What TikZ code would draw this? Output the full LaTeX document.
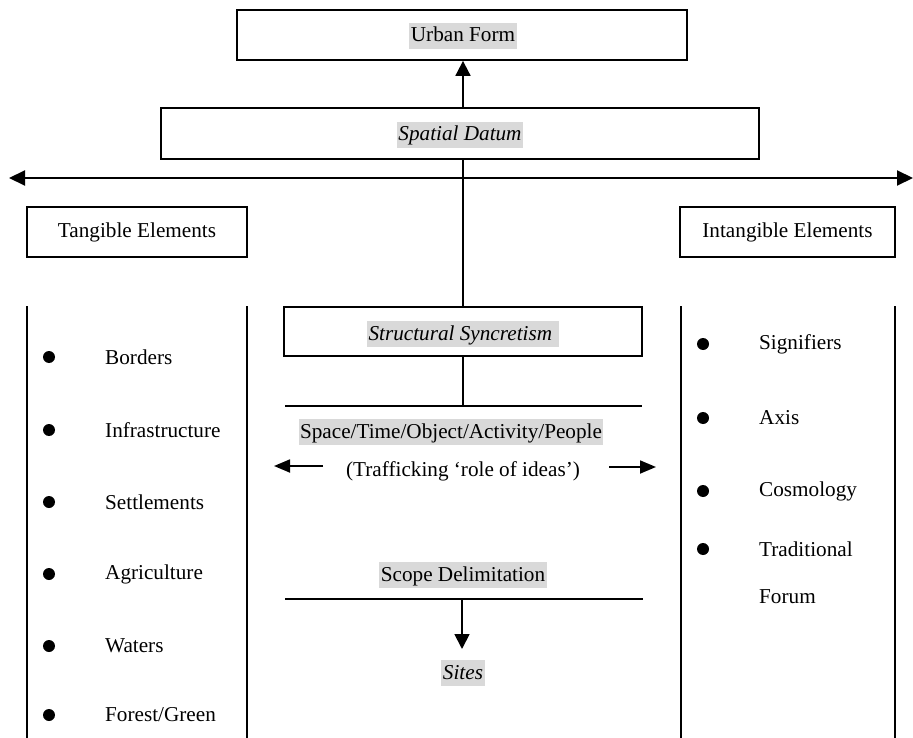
\documentclass[tikz,border=0pt]{standalone}
\usepackage{fontspec}
\setmainfont{Liberation Serif}
\usetikzlibrary{arrows.meta}
\definecolor{hl}{HTML}{D9D9D9}
\newcommand\hlbox[1]{{\setlength{\fboxsep}{1.5pt}\colorbox{hl}{\rule[-5.5pt]{0pt}{23pt}#1}}}
\begin{document}
\begin{tikzpicture}[x=1pt,y=-1pt,
  font=\fontsize{21.2}{25}\selectfont,
  framebox/.style={draw,line width=1.8pt,inner sep=0pt},
  plain/.style={inner sep=0pt},
  rule/.style={line width=1.8pt},
  tri/.style={-{Triangle[length=15pt,width=15pt]}},
  bul/.style={circle,fill=black,inner sep=0pt,minimum size=12pt},
  item/.style={inner sep=0pt,anchor=west}]
\useasboundingbox (0,0) rectangle (913,738);
% top boxes
\node[framebox,minimum width=450pt,minimum height=50pt] (uf) at (462,35) {};
\node[plain] (uft) at (463,36) {\hlbox{Urban Form}};
\node[framebox,minimum width=598pt,minimum height=51pt] (sd) at (460,133.5) {};
\node[plain] (sdt) at (460,135) {\hlbox{\itshape Spatial Datum}};
\draw[rule,tri] (sd.north -| uft) -- (uf.south -| uft);
% long double arrow
\coordinate (la) at (9,178);
\coordinate (ra) at (913,178);
\draw[line width=2pt,{Triangle[length=16pt,width=15pt]}-{Triangle[length=16pt,width=15pt]}] (la) -- (ra);
% side headings
\node[framebox,minimum width=220pt,minimum height=50pt] (tang) at (137,232) {Tangible Elements};
\node[framebox,minimum width=215pt,minimum height=50pt] (intang) at (787.5,232) {Intangible Elements};
% columns
\coordinate (l1t) at (27,306); \coordinate (l1b) at (27,738);
\coordinate (l2t) at (247,306); \coordinate (l2b) at (247,738);
\coordinate (r1t) at (681,306); \coordinate (r1b) at (681,738);
\coordinate (r2t) at (895,306); \coordinate (r2b) at (895,738);
\draw[rule] (l1t) -- (l1b); \draw[rule] (l2t) -- (l2b);
\draw[rule] (r1t) -- (r1b); \draw[rule] (r2t) -- (r2b);
% center
\node[framebox,minimum width=358pt,minimum height=49pt] (ss) at (463,331.5) {};
\node[plain] (sst) at (463,334) {\hlbox{\itshape Structural Syncretism }};
\draw[rule] (sd.south -| ss) -- (ss.north);
\coordinate (h1l) at (285,406); \coordinate (h1r) at (642,406);
\draw[rule] (h1l) -- (h1r);
\draw[rule] (ss.south) -- (ss.south |- h1l);
\node[plain] (stoap) at (451,432) {\hlbox{Space/Time/Object/Activity/People}};
\node[plain] (traf) at (463,471) {(Trafficking ‘role of ideas’)};
\coordinate (ala) at (323,466); \coordinate (alb) at (274,466);
\coordinate (ara) at (609,467); \coordinate (arb) at (656,467);
\draw[rule,-{Triangle[length=16pt,width=13pt]}] (ala) -- (alb);
\draw[rule,-{Triangle[length=16pt,width=13pt]}] (ara) -- (arb);
\node[plain] (scope) at (463,575) {\hlbox{Scope Delimitation}};
\coordinate (h2l) at (285,599); \coordinate (h2r) at (643,599);
\draw[rule] (h2l) -- (h2r);
\node[plain] (sites) at (463,673) {\hlbox{\itshape Sites}};
\coordinate (sdown) at (462,599);
\coordinate (sarrow) at (462,649);
\draw[rule,tri] (sdown) -- (sarrow);
% left items
\foreach \y/\t/\n in {357/Borders/a,430/Infrastructure/b,502/Settlements/c,574/Agriculture/d,646/Waters/e,715/Forest\slash Green/f}{
  \node[bul] (lb\n) at (49,\y) {};
  \node[item] (lt\n) at (105,\y) {\t};
}
% right items
\foreach \y/\t/\n in {344/Signifiers/a,418/Axis/b,491/Cosmology/c,549/Traditional/d}{
  \node[bul] (rb\n) at (703,\y) {};
  \node[item] (rt\n) at (759,\y) {\t};
}
\node[item] (rte) at (759,597) {Forum};
\end{tikzpicture}
\end{document}
